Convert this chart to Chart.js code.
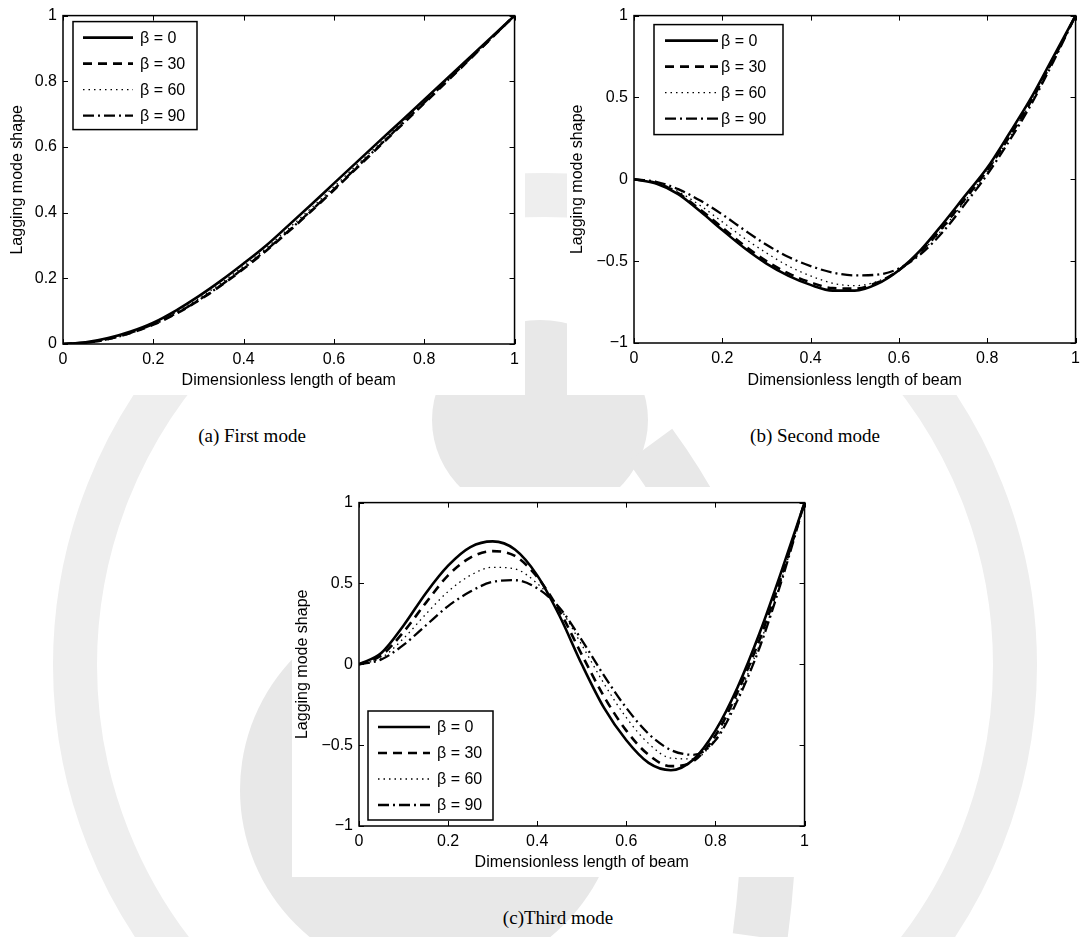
<!DOCTYPE html>
<html>
<head>
<meta charset="utf-8" />
<title>Lagging mode shapes</title>
<style>
  body { margin: 0; background: #fff; }
  #page { position: relative; width: 1086px; height: 937px; overflow: hidden; background: #fff; }
  .panel { position: absolute; background: #fff; }
  .cap { position: absolute; font-family: "Liberation Serif", "Times New Roman", serif; font-size: 19px; color: #000; white-space: nowrap; transform: translateX(-50%); }
  svg.wm { position: absolute; left: 0; top: 0; }
</style>
</head>
<body>
<div id="page">
  <!-- faint background logo -->
  <svg class="wm" width="1086" height="937">
    <circle cx="545" cy="665" r="470" fill="none" stroke="#eeeeee" stroke-width="44" />
    <circle cx="430" cy="790" r="190" fill="#e8e8e8" />
    <ellipse cx="540" cy="420" rx="108" ry="100" fill="#e8e8e8" />
    <path d="M 650 445 Q 800 650 760 937" fill="none" stroke="#e8e8e8" stroke-width="55" />
  </svg>

  <div class="panel" style="left:0px;top:0px;width:525px;height:395px;"><canvas id="chartA"></canvas></div>
  <div class="panel" style="left:567px;top:0px;width:519px;height:395px;"><canvas id="chartB"></canvas></div>
  <div class="panel" style="left:292px;top:487px;width:523px;height:390px;"><canvas id="chartC"></canvas></div>

  <div class="cap" style="left:252px;top:425px;">(a) First mode</div>
  <div class="cap" style="left:815px;top:425px;">(b) Second mode</div>
  <div class="cap" style="left:558px;top:907px;">(c)Third mode</div>
</div>

<script src="https://cdn.jsdelivr.net/npm/chart.js"></script>
<script>

// dimensionless position along the beam
const xs = [0, 0.05, 0.1, 0.15, 0.2, 0.25, 0.3, 0.35, 0.4, 0.45, 0.5, 0.55, 0.6, 0.65, 0.7, 0.75, 0.8, 0.85, 0.9, 0.95, 1];
const betaLabels = ['\u03b2 = 0', '\u03b2 = 30', '\u03b2 = 60', '\u03b2 = 90'];

// (a) first mode
const firstB0  = [0, 0.005, 0.018, 0.038, 0.065, 0.102, 0.145, 0.193, 0.245, 0.300, 0.362, 0.425, 0.489, 0.553, 0.617, 0.680, 0.744, 0.808, 0.872, 0.936, 1];
const firstB30 = [0, 0.004, 0.015, 0.034, 0.059, 0.092, 0.132, 0.178, 0.229, 0.284, 0.343, 0.405, 0.469, 0.535, 0.601, 0.667, 0.733, 0.799, 0.866, 0.933, 1];
const firstB60 = [0, 0.004, 0.016, 0.036, 0.062, 0.096, 0.138, 0.185, 0.237, 0.292, 0.352, 0.414, 0.479, 0.544, 0.609, 0.674, 0.738, 0.803, 0.868, 0.934, 1];
const firstB90 = [0, 0.004, 0.015, 0.034, 0.060, 0.093, 0.133, 0.179, 0.231, 0.286, 0.345, 0.407, 0.471, 0.537, 0.603, 0.669, 0.735, 0.801, 0.867, 0.933, 1];

// (b) second mode
const secondB0  = [0, -0.025, -0.090, -0.195, -0.310, -0.420, -0.515, -0.590, -0.645, -0.680, -0.680, -0.640, -0.555, -0.430, -0.270, -0.100, 0.070, 0.280, 0.500, 0.750, 1];
const secondB30 = [0, -0.022, -0.085, -0.185, -0.295, -0.405, -0.500, -0.575, -0.630, -0.665, -0.668, -0.632, -0.555, -0.440, -0.290, -0.120, 0.055, 0.260, 0.480, 0.735, 1];
const secondB60 = [0, -0.020, -0.075, -0.160, -0.260, -0.360, -0.450, -0.530, -0.590, -0.635, -0.650, -0.625, -0.555, -0.445, -0.300, -0.130, 0.050, 0.255, 0.475, 0.730, 1];
const secondB90 = [0, -0.015, -0.060, -0.130, -0.215, -0.310, -0.400, -0.475, -0.530, -0.570, -0.587, -0.583, -0.545, -0.455, -0.320, -0.150, 0.030, 0.235, 0.460, 0.720, 1];

// (c) third mode
const thirdB0  = [0, 0.070, 0.240, 0.440, 0.610, 0.725, 0.760, 0.710, 0.550, 0.300, 0.000, -0.270, -0.470, -0.610, -0.655, -0.590, -0.410, -0.140, 0.200, 0.590, 1];
const thirdB30 = [0, 0.055, 0.200, 0.380, 0.550, 0.660, 0.700, 0.670, 0.540, 0.330, 0.060, -0.200, -0.410, -0.560, -0.630, -0.600, -0.440, -0.170, 0.160, 0.560, 1];
const thirdB60 = [0, 0.040, 0.160, 0.310, 0.450, 0.550, 0.600, 0.590, 0.500, 0.350, 0.120, -0.120, -0.330, -0.490, -0.580, -0.585, -0.460, -0.200, 0.130, 0.540, 1];
const thirdB90 = [0, 0.030, 0.120, 0.240, 0.360, 0.450, 0.510, 0.520, 0.470, 0.350, 0.150, -0.070, -0.270, -0.430, -0.530, -0.560, -0.470, -0.220, 0.110, 0.530, 1];

// tick values
const xTicks = [0, 0.2, 0.4, 0.6, 0.8, 1];
const yTicksFirst = [0, 0.2, 0.4, 0.6, 0.8, 1];
const yTicksOther = [-1, -0.5, 0, 0.5, 1];

// line styles for beta = 0, 30, 60, 90
const lineDash = [[], [9, 6], [1.5, 4], [11, 4, 2, 4]];
const lineWidth = [2.6, 2.6, 1.3, 2.3];

Chart.defaults.font.family = '"Liberation Sans", Arial, Helvetica, sans-serif';
Chart.defaults.color = '#000';

// box, inward ticks and legend drawn MATLAB style
const matlabBox = {
  id: 'matlabBox',
  afterDatasetsDraw(chart, args, opts) {
    const ctx = chart.ctx;
    const a = chart.chartArea;
    const sx = chart.scales.x, sy = chart.scales.y;
    ctx.save();
    ctx.strokeStyle = '#000';
    ctx.setLineDash([]);
    ctx.lineWidth = 1.5;
    ctx.strokeRect(a.left, a.top, a.right - a.left, a.bottom - a.top);
    ctx.lineWidth = 1;
    const tl = 5;
    ctx.beginPath();
    sx.ticks.forEach(t => {
      const px = Math.round(sx.getPixelForValue(t.value)) + 0.5;
      ctx.moveTo(px, a.bottom); ctx.lineTo(px, a.bottom - tl);
      ctx.moveTo(px, a.top); ctx.lineTo(px, a.top + tl);
    });
    sy.ticks.forEach(t => {
      const py = Math.round(sy.getPixelForValue(t.value)) + 0.5;
      ctx.moveTo(a.left, py); ctx.lineTo(a.left + tl, py);
      ctx.moveTo(a.right, py); ctx.lineTo(a.right - tl, py);
    });
    ctx.stroke();

    // legend
    const w = opts.w, h = opts.h;
    const bx = a.left + opts.dx;
    const by = opts.bottom ? a.bottom - opts.dy - h : a.top + opts.dy;
    ctx.fillStyle = '#fff';
    ctx.fillRect(bx, by, w, h);
    ctx.lineWidth = 1.5;
    ctx.strokeRect(bx, by, w, h);
    ctx.font = '16px "Liberation Sans", Arial, sans-serif';
    ctx.textBaseline = 'middle';
    ctx.fillStyle = '#000';
    chart.data.datasets.forEach((ds, i) => {
      const ry = by + 16 + i * 26;
      ctx.beginPath();
      ctx.lineWidth = ds.borderWidth;
      ctx.setLineDash(ds.borderDash);
      ctx.moveTo(bx + opts.l0, ry);
      ctx.lineTo(bx + opts.l1, ry);
      ctx.stroke();
      ctx.setLineDash([]);
      ctx.fillText(ds.label, bx + opts.tx, ry + 1);
    });
    ctx.restore();
  }
};

function makeSets(series) {
  return series.map((vals, i) => ({
    label: betaLabels[i],
    data: vals.map((v, j) => ({x: xs[j], y: v})),
    borderColor: '#000',
    borderWidth: lineWidth[i],
    borderDash: lineDash[i],
    pointRadius: 0,
    fill: false,
    cubicInterpolationMode: 'monotone'
  }));
}

function fmt(v) {
  return String(v).replace('-', '\u2212');
}

function makeChart(id, series, yTicks, lay) {
  return new Chart(document.getElementById(id), {
    type: 'line',
    data: { datasets: makeSets(series) },
    options: {
      responsive: true,
      maintainAspectRatio: false,
      animation: false,
      devicePixelRatio: 1,
      layout: { padding: { top: lay.top, right: lay.right, left: 0, bottom: 0 } },
      plugins: {
        legend: { display: false },
        tooltip: { enabled: false },
        matlabBox: lay.legend
      },
      scales: {
        x: {
          type: 'linear', min: 0, max: 1,
          grid: { display: false, drawTicks: false },
          border: { display: false },
          afterBuildTicks: s => { s.ticks = xTicks.map(v => ({value: v})); },
          afterFit: s => { s.height = lay.xh; },
          ticks: { padding: 6, maxRotation: 0, font: { size: 16 }, callback: v => fmt(v) },
          title: { display: true, text: 'Dimensionless length of beam', font: { size: 16 }, padding: { top: 0, bottom: lay.xtb } }
        },
        y: {
          type: 'linear', min: yTicks[0], max: yTicks[yTicks.length - 1],
          grid: { display: false, drawTicks: false },
          border: { display: false },
          afterBuildTicks: s => { s.ticks = yTicks.map(v => ({value: v})); },
          afterFit: s => { s.width = lay.yw; },
          ticks: { padding: 6, font: { size: 16 }, callback: v => fmt(v) },
          title: { display: true, text: 'Lagging mode shape', font: { size: 16 }, padding: { top: lay.ytp, bottom: 0 } }
        }
      }
    },
    plugins: [matlabBox]
  });
}

makeChart('chartA', [firstB0, firstB30, firstB60, firstB90], yTicksFirst,
  { top: 14, right: 9, yw: 63, xh: 51, xtb: 5, ytp: 8,
    legend: { dx: 10, dy: 6, w: 124, h: 108, l0: 10, l1: 60, tx: 67, bottom: false } });

makeChart('chartB', [secondB0, secondB30, secondB60, secondB90], yTicksOther,
  { top: 14, right: 4, yw: 67, xh: 52, xtb: 5, ytp: 1,
    legend: { dx: 20, dy: 9, w: 129, h: 110, l0: 11, l1: 64, tx: 67, bottom: false } });

makeChart('chartC', [thirdB0, thirdB30, thirdB60, thirdB90], yTicksOther,
  { top: 10, right: 9, yw: 67, xh: 51, xtb: 5, ytp: 1,
    legend: { dx: 9, dy: 6, w: 125, h: 109, l0: 10, l1: 62, tx: 69, bottom: true } });

</script>
</body>
</html>
